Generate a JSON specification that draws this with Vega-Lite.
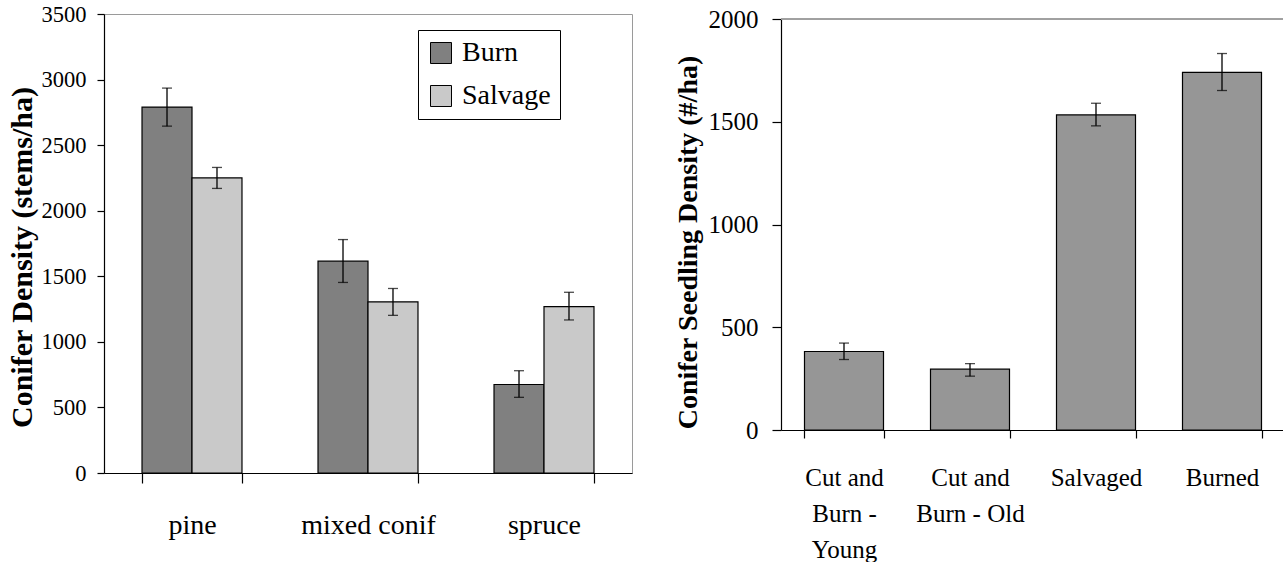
{
  "$schema": "https://vega.github.io/schema/vega-lite/v6.json",
  "background": "white",
  "padding": {"left": 6, "top": 2, "right": 0, "bottom": 0},
  "spacing": 41,
  "config": {
    "font": "Liberation Serif",
    "view": {"stroke": "#9a9a9a", "strokeWidth": 1},
    "axis": {
      "labelFont": "Liberation Serif",
      "titleFont": "Liberation Serif",
      "labelColor": "black",
      "titleColor": "black",
      "domainColor": "black",
      "tickColor": "black",
      "domainWidth": 1.2,
      "tickWidth": 1.2,
      "grid": false
    },
    "legend": {"labelFont": "Liberation Serif", "labelColor": "black"}
  },
  "datasets": {
    "species": [
      {"species": "pine", "treatment": "Burn", "density": 2790, "low": 2645, "high": 2935},
      {"species": "pine", "treatment": "Salvage", "density": 2250, "low": 2170, "high": 2330},
      {"species": "mixed conif", "treatment": "Burn", "density": 1615, "low": 1453, "high": 1780},
      {"species": "mixed conif", "treatment": "Salvage", "density": 1305, "low": 1202, "high": 1407},
      {"species": "spruce", "treatment": "Burn", "density": 675, "low": 577, "high": 780},
      {"species": "spruce", "treatment": "Salvage", "density": 1268, "low": 1167, "high": 1378}
    ],
    "seedlings": [
      {"site": "Cut and Burn - Young", "density": 382, "low": 343, "high": 423},
      {"site": "Cut and Burn - Old", "density": 296, "low": 262, "high": 323},
      {"site": "Salvaged", "density": 1533, "low": 1480, "high": 1590},
      {"site": "Burned", "density": 1740, "low": 1652, "high": 1832}
    ]
  },
  "hconcat": [
    {
      "width": 528,
      "height": 459,
      "data": {"name": "species"},
      "encoding": {
        "x": {
          "field": "species",
          "type": "nominal",
          "sort": ["pine", "mixed conif", "spruce"],
          "scale": {"paddingInner": 0.432, "paddingOuter": 0.216},
          "axis": {
            "title": null,
            "labelAngle": 0,
            "labelFontSize": 28,
            "labelBaseline": "alphabetic",
            "labelPadding": 50,
            "tickSize": 10,
            "tickBand": "extent",
            "labelLimit": 300
          }
        },
        "xOffset": {
          "field": "treatment",
          "sort": ["Burn", "Salvage"],
          "scale": {"paddingInner": 0, "paddingOuter": 0}
        }
      },
      "layer": [
        {
          "mark": {"type": "bar", "stroke": "black", "strokeWidth": 1.2},
          "encoding": {
            "y": {
              "field": "density",
              "type": "quantitative",
              "title": "Conifer Density (stems/ha)",
              "scale": {"domain": [0, 3500]},
              "axis": {
                "titleFontSize": 30,
                "titleFontWeight": "bold",
                "titleBaseline": "alphabetic",
                "titlePadding": 10,
                "titleY": 243,
                "format": "d",
                "values": [0, 500, 1000, 1500, 2000, 2500, 3000, 3500],
                "labelFontSize": 22.5,
                "labelPadding": 11,
                "tickSize": 7
              }
            },
            "fill": {
              "field": "treatment",
              "type": "nominal",
              "scale": {"domain": ["Burn", "Salvage"], "range": ["#808080", "#c9c9c9"]},
              "legend": {
                "orient": "none",
                "legendX": 314,
                "legendY": 16,
                "title": null,
                "direction": "vertical",
                "symbolType": "square",
                "symbolSize": 441,
                "symbolStrokeColor": "black",
                "symbolStrokeWidth": 1,
                "labelFontSize": 28,
                "labelOffset": 7,
                "labelLimit": 300,
                "padding": 9,
                "rowPadding": 15,
                "strokeColor": "black",
                "fillColor": "white",
                "cornerRadius": 0
              }
            }
          }
        },
        {
          "mark": {"type": "rule", "color": "black", "strokeWidth": 1.3},
          "encoding": {
            "y": {"field": "low", "type": "quantitative", "title": "Conifer Density (stems/ha)"},
            "y2": {"field": "high"}
          }
        },
        {
          "mark": {"type": "tick", "color": "black", "thickness": 1.3, "size": 10},
          "encoding": {"y": {"field": "low", "type": "quantitative", "title": "Conifer Density (stems/ha)"}}
        },
        {
          "mark": {"type": "tick", "color": "black", "thickness": 1.3, "size": 10},
          "encoding": {"y": {"field": "high", "type": "quantitative", "title": "Conifer Density (stems/ha)"}}
        }
      ]
    },
    {
      "width": 504,
      "height": 416,
      "view": {"stroke": null},
      "data": {"name": "seedlings"},
      "layer": [
        {
          "mark": {"type": "bar", "fill": "#969696", "stroke": "black", "strokeWidth": 1.2},
          "encoding": {
            "x": {
              "field": "site",
              "type": "nominal",
              "sort": ["Cut and Burn - Young", "Cut and Burn - Old", "Salvaged", "Burned"],
              "scale": {"paddingInner": 0.373, "paddingOuter": 0.1865},
              "axis": {
                "title": null,
                "labelAngle": 0,
                "labelFontSize": 25,
                "labelBaseline": "alphabetic",
                "labelPadding": 47,
                "labelLineHeight": 36,
                "tickSize": 8,
                "tickBand": "extent",
                "labelLimit": 300,
                "labelExpr": "datum.value == 'Cut and Burn - Young' ? ['Cut and', 'Burn -', 'Young'] : datum.value == 'Cut and Burn - Old' ? ['Cut and', 'Burn - Old'] : datum.value"
              }
            },
            "y": {
              "field": "density",
              "type": "quantitative",
              "title": "Conifer Seedling Density (#/ha)",
              "scale": {"domain": [0, 2000], "range": [416, 5]},
              "axis": {
                "titleFontSize": 28,
                "titleFontWeight": "bold",
                "titleBaseline": "alphabetic",
                "titlePadding": 12,
                "titleY": 228,
                "format": "d",
                "values": [0, 500, 1000, 1500, 2000],
                "labelFontSize": 25,
                "labelPadding": 14,
                "tickSize": 9
              }
            }
          }
        },
        {
          "mark": {"type": "rule", "color": "black", "strokeWidth": 1.3},
          "encoding": {
            "x": {"field": "site", "type": "nominal", "sort": ["Cut and Burn - Young", "Cut and Burn - Old", "Salvaged", "Burned"]},
            "y": {"field": "low", "type": "quantitative", "title": "Conifer Seedling Density (#/ha)"},
            "y2": {"field": "high"}
          }
        },
        {
          "mark": {"type": "tick", "color": "black", "thickness": 1.3, "size": 10},
          "encoding": {
            "x": {"field": "site", "type": "nominal", "sort": ["Cut and Burn - Young", "Cut and Burn - Old", "Salvaged", "Burned"]},
            "y": {"field": "low", "type": "quantitative", "title": "Conifer Seedling Density (#/ha)"}
          }
        },
        {
          "mark": {"type": "tick", "color": "black", "thickness": 1.3, "size": 10},
          "encoding": {
            "x": {"field": "site", "type": "nominal", "sort": ["Cut and Burn - Young", "Cut and Burn - Old", "Salvaged", "Burned"]},
            "y": {"field": "high", "type": "quantitative", "title": "Conifer Seedling Density (#/ha)"}
          }
        },
        {
          "mark": {"type": "rule", "color": "#9a9a9a", "strokeWidth": 1},
          "encoding": {"y": {"datum": 2000, "type": "quantitative", "title": "Conifer Seedling Density (#/ha)"}}
        }
      ]
    }
  ]
}
